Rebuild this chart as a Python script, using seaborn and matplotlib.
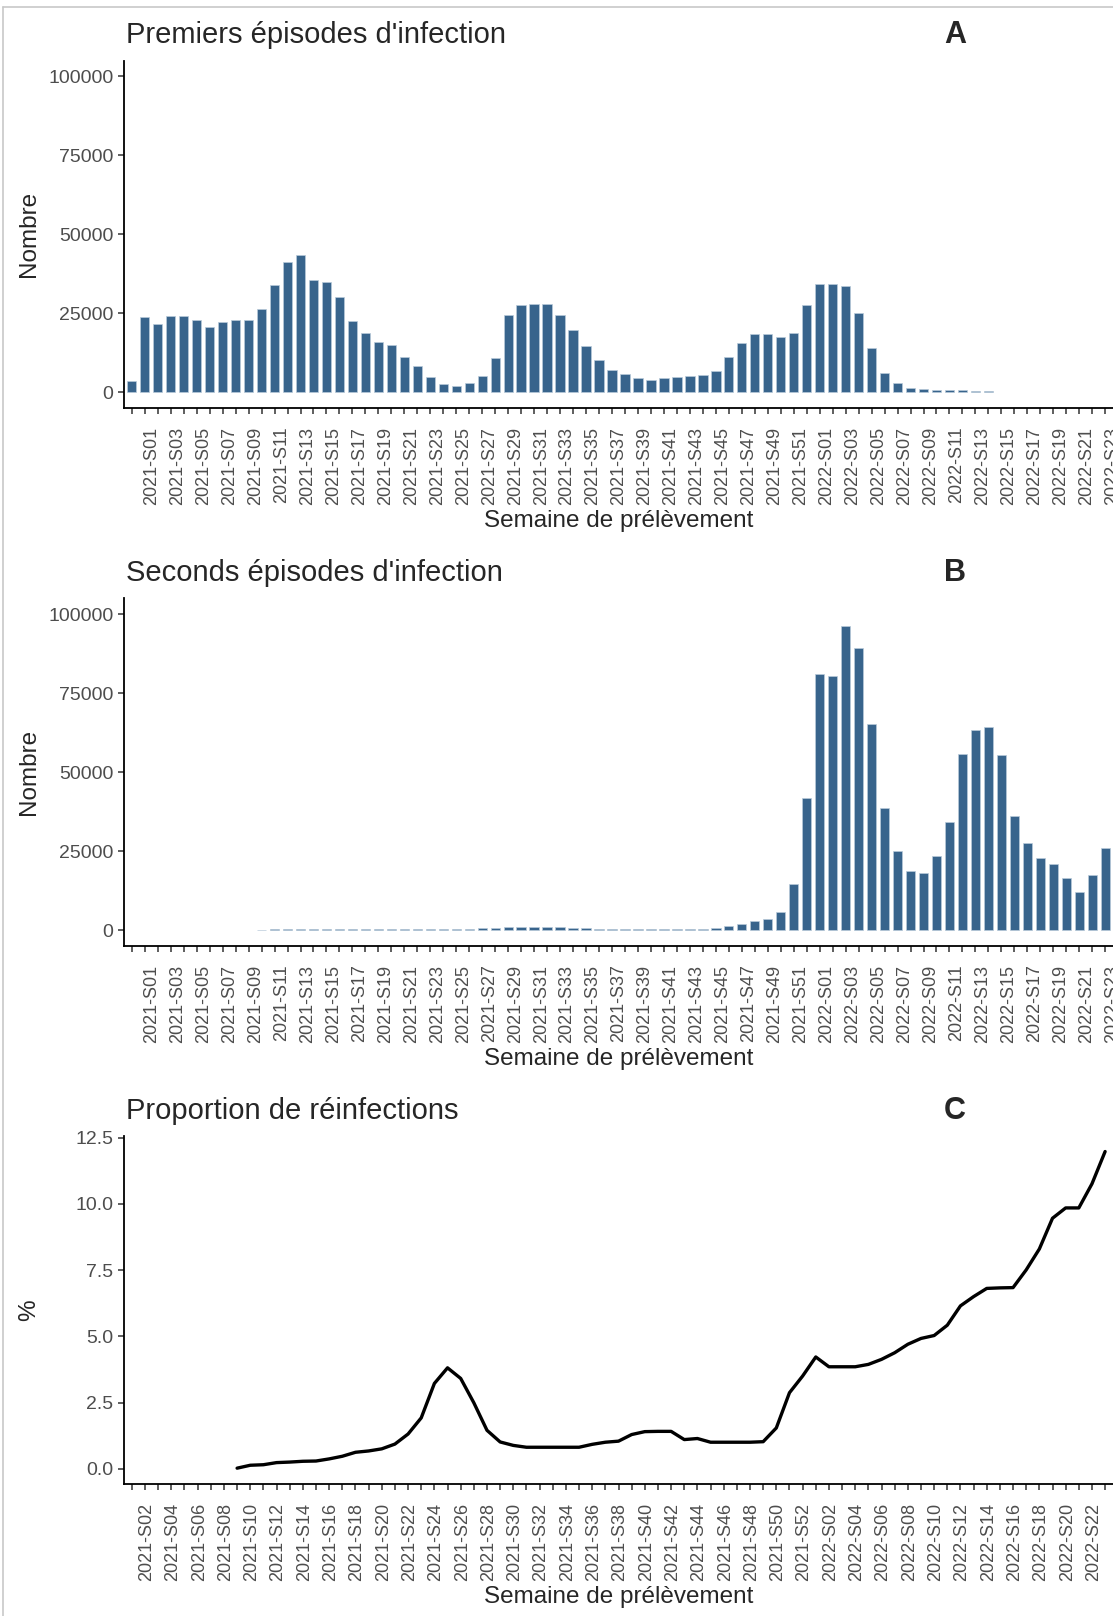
import matplotlib
matplotlib.use("Agg")
import matplotlib.pyplot as plt
from matplotlib.lines import Line2D
from matplotlib.transforms import ScaledTranslation
import numpy as np
import pandas as pd
import seaborn as sns

nan = np.nan

# week categories (panels A/B start one week earlier than panel C)
weeks_ab = ["2020-S53"] + [f"2021-S{w:02d}" for w in range(1, 53)] + [f"2022-S{w:02d}" for w in range(1, 24)]
weeks_c = weeks_ab[1:]

# A - premiers episodes
first_episodes = [3690, 23840, 21620, 24160, 24050, 22890, 20670, 22150, 22890, 22890,
                  26270, 33970, 41140, 43350, 35650, 34810, 30270, 22470, 18780, 15820,
                  14980, 11180, 8230, 4750, 2640, 2000, 2850, 5060, 10860, 24470,
                  27530, 27950, 27950, 24370, 19730, 14560, 10200, 7170, 5700, 4540,
                  4010, 4430, 4750, 5170, 5490, 6860, 11080, 15510, 18350, 18350,
                  17620, 18780, 27640, 34180, 34280, 33650, 25110, 14030, 6220, 2850,
                  1370, 1050, 840, 630, 630, 530, 320,
                  nan, nan, nan, nan, nan, nan, nan, nan, nan]

# B - seconds episodes
second_episodes = [nan, nan, nan, nan, nan, nan, nan, nan, nan, nan,
                   100, 200, 300, 350, 400, 400, 400, 450, 450, 450,
                   400, 400, 350, 300, 300, 300, 350, 500, 700, 1000,
                   1100, 1100, 1000, 800, 600, 500, 400, 300, 300, 250,
                   250, 300, 350, 400, 450, 600, 1160, 2000, 2850, 3480,
                   5590, 14660, 41770, 81120, 80490, 96100, 89140, 65190, 38610, 24890,
                   18670, 18140, 23310, 34280, 55590, 63190, 64240, 55380, 35970, 27640,
                   22680, 20990, 16460, 12130, 17410, 25840]

# C - proportion de reinfections (%)
reinfection_pct = [nan, nan, nan, nan, nan, nan, nan, nan,
                   0.02, 0.13, 0.15, 0.23, 0.25, 0.28, 0.29, 0.37, 0.47, 0.62,
                   0.67, 0.75, 0.93, 1.31, 1.92, 3.22, 3.81, 3.41, 2.49, 1.45,
                   1.01, 0.88, 0.81, 0.81, 0.81, 0.81, 0.81, 0.92, 1.00, 1.04,
                   1.29, 1.40, 1.41, 1.41, 1.10, 1.14, 1.00, 1.00, 1.00, 1.00,
                   1.02, 1.54, 2.87, 3.50,
                   4.22, 3.85, 3.85, 3.85, 3.94, 4.13, 4.38, 4.70, 4.92, 5.03,
                   5.42, 6.15, 6.50, 6.81, 6.83, 6.84, 7.51, 8.30, 9.46, 9.85,
                   9.85, 10.76, 11.98]

W, H, DPI = 1113, 1616, 100
BAR_COLOR = "#38648C"
BAR_EDGE = "#B9CADA"

sns.set_style("ticks")
plt.rcParams["font.family"] = ["Liberation Sans", "DejaVu Sans"]

fig = plt.figure(figsize=(W / DPI, H / DPI), dpi=DPI)


def add_axes_px(top, bottom, left=124, right=1113):
    return fig.add_axes([left / W, 1 - bottom / H, (right - left) / W, (bottom - top) / H])


def style_axes(ax, top, bottom, xlabel_y, ylabel, labels, shift_px):
    for s in ["top", "right"]:
        ax.spines[s].set_visible(False)
    for s in ["left", "bottom"]:
        ax.spines[s].set_linewidth(1.3)
        ax.spines[s].set_color("black")
    ax.tick_params(axis="both", length=4.5, width=1.1, color="#333333",
                   labelcolor="#4D4D4D", labelsize=14)
    ax.tick_params(axis="x", pad=9, labelsize=13)
    ax.tick_params(axis="y", pad=3)
    ax.set_xticks(range(len(labels)))
    ax.set_xticklabels([w if i % 2 == 1 else "" for i, w in enumerate(labels)],
                       rotation=90, ha="center", va="top")
    if shift_px:
        off = ScaledTranslation(shift_px / DPI, 0, fig.dpi_scale_trans)
        for lab in ax.get_xticklabels():
            lab.set_transform(lab.get_transform() + off)
    ax.set_xlabel("Semaine de prélèvement", fontsize=17.5)
    ax.xaxis.set_label_coords(0.5, -(xlabel_y - bottom) / (bottom - top))
    ax.xaxis.label.set_va("center")
    ax.set_ylabel(ylabel, fontsize=17.5)
    ax.yaxis.set_label_coords((29 - 124) / 989, 0.5)
    ax.yaxis.label.set_va("center")


def panel_title(y, title, letter):
    fig.text(126 / W, 1 - y / H, title, fontsize=21, ha="left", va="center")
    fig.text(955 / W, 1 - y / H, letter, fontsize=22, fontweight="bold", ha="center", va="center")


count_ticks = [0, 25000, 50000, 75000, 100000]

# Panel A
ax_a = add_axes_px(60.5, 408)
df_a = pd.DataFrame({"semaine": weeks_ab, "nombre": first_episodes}).dropna()
sns.barplot(data=df_a, x="semaine", y="nombre", order=weeks_ab, color=BAR_COLOR, saturation=1,
            width=0.72, edgecolor=BAR_EDGE, linewidth=0.5, errorbar=None, ax=ax_a)
ax_a.set_xlim(-0.6, len(weeks_ab) - 0.4)
ax_a.set_ylim(-5000, 105000)
ax_a.set_yticks(count_ticks)
ax_a.set_yticklabels([str(t) for t in count_ticks])
style_axes(ax_a, 60.5, 408, 521.5, "Nombre", weeks_ab, 7)
panel_title(35, "Premiers épisodes d'infection", "A")

# Panel B
ax_b = add_axes_px(598.2, 945.8)
df_b = pd.DataFrame({"semaine": weeks_ab, "nombre": second_episodes}).dropna()
sns.barplot(data=df_b, x="semaine", y="nombre", order=weeks_ab, color=BAR_COLOR, saturation=1,
            width=0.72, edgecolor=BAR_EDGE, linewidth=0.5, errorbar=None, ax=ax_b)
ax_b.set_xlim(-0.6, len(weeks_ab) - 0.4)
ax_b.set_ylim(-5000, 105000)
ax_b.set_yticks(count_ticks)
ax_b.set_yticklabels([str(t) for t in count_ticks])
style_axes(ax_b, 598.2, 945.8, 1059.5, "Nombre", weeks_ab, 7)
panel_title(573, "Seconds épisodes d'infection", "B")

# Panel C
ax_c = add_axes_px(1135.7, 1484)
df_c = pd.DataFrame({"pos": range(len(weeks_c)), "pct": reinfection_pct}).dropna()
sns.lineplot(data=df_c, x="pos", y="pct", color="black", linewidth=2.4, ax=ax_c)
lo, hi = df_c["pct"].min(), df_c["pct"].max()
pad = 0.05 * (hi - lo)
ax_c.set_ylim(lo - pad, hi + pad)
ax_c.set_xlim(-0.6, len(weeks_c) - 0.4)
pct_ticks = [0.0, 2.5, 5.0, 7.5, 10.0, 12.5]
ax_c.set_yticks(pct_ticks)
ax_c.set_yticklabels([f"{t:.1f}" for t in pct_ticks])
style_axes(ax_c, 1135.7, 1484, 1597.5, "%", weeks_c, 1.5)
panel_title(1111, "Proportion de réinfections", "C")

# light frame of the original figure
fig.add_artist(Line2D([3 / W, 1], [1 - 7 / H, 1 - 7 / H], color="#C8C8C8", lw=1.2,
                      transform=fig.transFigure))
fig.add_artist(Line2D([3 / W, 3 / W], [0, 1 - 7 / H], color="#C8C8C8", lw=1.2,
                      transform=fig.transFigure))

fig.savefig("out.png", dpi=DPI)
